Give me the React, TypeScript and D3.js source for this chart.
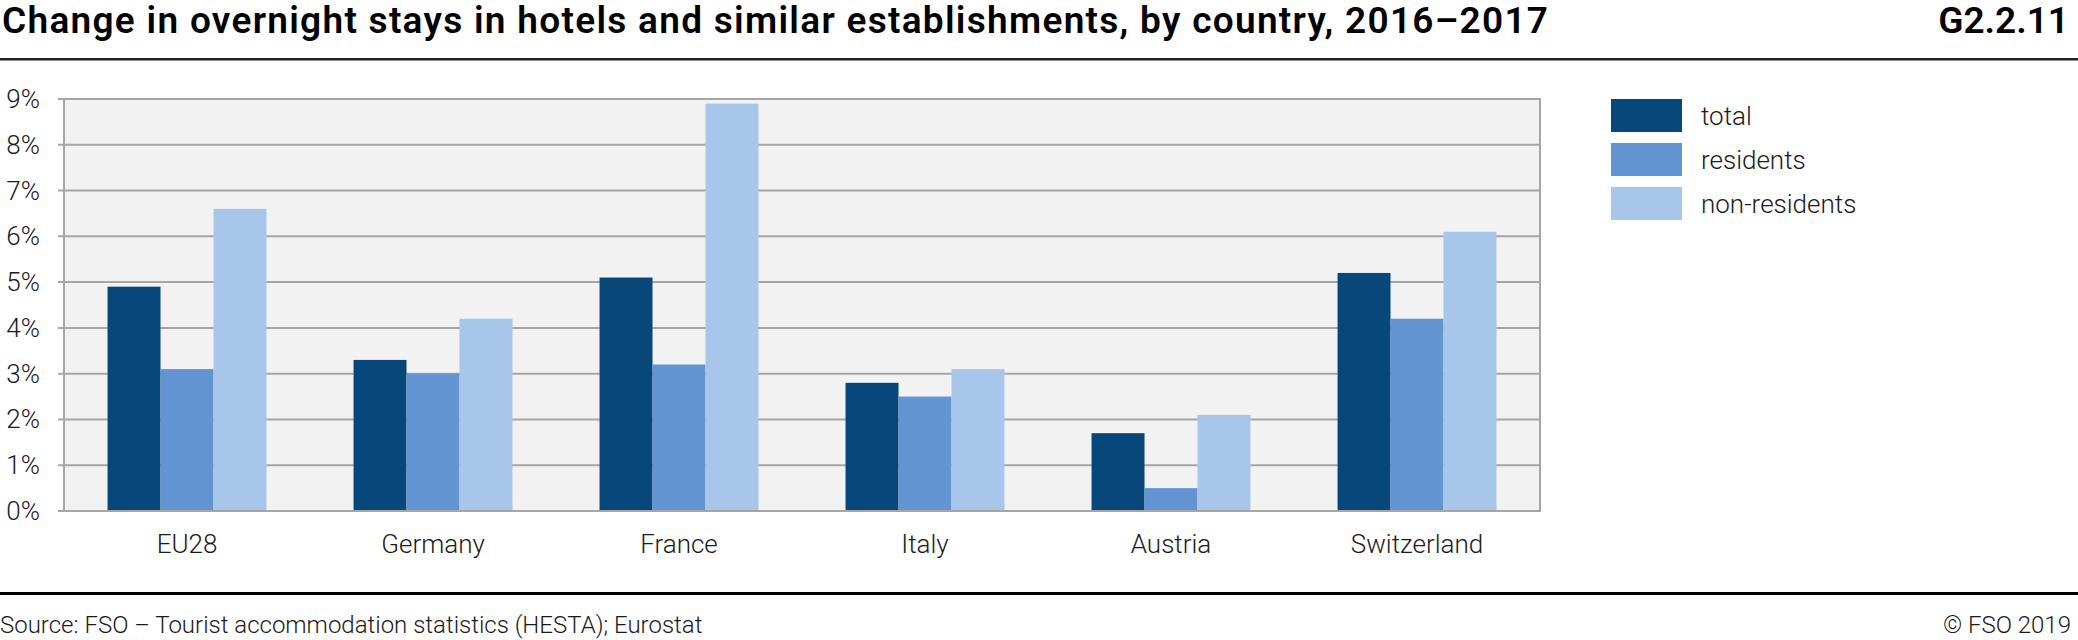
import { useEffect, useRef } from 'react';
import * as d3 from 'd3';

const COUNTRIES = ['EU28', 'Germany', 'France', 'Italy', 'Austria', 'Switzerland'];
const SERIES = ['total', 'residents', 'non-residents'];
const TOTAL = [4.9, 3.3, 5.1, 2.8, 1.7, 5.2];
const RESIDENTS = [3.1, 3.0, 3.2, 2.5, 0.5, 4.2];
const NON_RESIDENTS = [6.6, 4.2, 8.9, 3.1, 2.1, 6.1];
const Y_TICKS = [0, 1, 2, 3, 4, 5, 6, 7, 8, 9];
const COLORS = ['#08477a', '#6395d3', '#a8c5ea'];

const WIDTH = 2078;
const HEIGHT = 640;
const PLOT = { left: 64, right: 1540, top: 99, bottom: 511 };
const FONT = 'Roboto, "Noto Sans", sans-serif';

export default function App() {
  const ref = useRef<SVGSVGElement | null>(null);

  useEffect(() => {
    if (!ref.current) return;
    const svg = d3.select(ref.current);
    svg.selectAll('*').remove();

    const values = [TOTAL, RESIDENTS, NON_RESIDENTS];
    const rows = COUNTRIES.map((c, i) => ({ country: c, vals: values.map(v => v[i]) }));

    const x0 = d3
      .scaleBand()
      .domain(COUNTRIES)
      .range([PLOT.left, PLOT.right])
      .paddingInner(0.354)
      .paddingOuter(0.177);
    const x1 = d3.scaleBand().domain(SERIES).range([0, x0.bandwidth()]);
    const y = d3.scaleLinear().domain([0, 9]).range([PLOT.bottom, PLOT.top]);

    // title block
    svg
      .append('text')
      .attr('x', 2)
      .attr('y', 33)
      .attr('font-family', FONT)
      .attr('font-weight', 600)
      .attr('font-size', 37)
      .attr('textLength', 1546)
      .attr('lengthAdjust', 'spacing')
      .attr('fill', '#000')
      .text('Change in overnight stays in hotels and similar establishments, by country, 2016–2017');
    svg
      .append('text')
      .attr('x', 2069)
      .attr('y', 33)
      .attr('text-anchor', 'end')
      .attr('font-family', FONT)
      .attr('font-weight', 600)
      .attr('font-size', 37)
      .attr('fill', '#000')
      .text('G2.2.11');
    svg.append('rect').attr('x', 0).attr('y', 58).attr('width', WIDTH).attr('height', 2.5).attr('fill', '#222');

    // plot background
    svg
      .append('rect')
      .attr('x', PLOT.left)
      .attr('y', PLOT.top)
      .attr('width', PLOT.right - PLOT.left)
      .attr('height', PLOT.bottom - PLOT.top)
      .attr('fill', '#f2f2f2');

    // gridlines + ticks
    svg
      .append('g')
      .selectAll('line')
      .data(Y_TICKS)
      .join('line')
      .attr('x1', PLOT.left - 6)
      .attr('x2', PLOT.right)
      .attr('y1', d => y(d))
      .attr('y2', d => y(d))
      .attr('stroke', '#a6a6a6')
      .attr('stroke-width', 2);

    svg
      .append('g')
      .selectAll('text')
      .data(Y_TICKS)
      .join('text')
      .attr('x', 40)
      .attr('y', d => y(d) + 9)
      .attr('text-anchor', 'end')
      .attr('font-family', FONT)
      .attr('font-weight', 300)
      .attr('font-size', 26)
      .attr('fill', '#1a1a1a')
      .text(d => `${d}%`);

    // bars
    const group = svg
      .append('g')
      .selectAll('g')
      .data(rows)
      .join('g')
      .attr('transform', d => `translate(${x0(d.country)},0)`);
    group
      .selectAll('rect')
      .data(d => d.vals.map((v, i) => ({ key: SERIES[i], v, i })))
      .join('rect')
      .attr('x', d => x1(d.key)!)
      .attr('width', x1.bandwidth())
      .attr('y', d => y(d.v))
      .attr('height', d => y(0) - y(d.v))
      .attr('fill', d => COLORS[d.i]);

    // frame
    svg
      .append('rect')
      .attr('x', PLOT.left)
      .attr('y', PLOT.top)
      .attr('width', PLOT.right - PLOT.left)
      .attr('height', PLOT.bottom - PLOT.top)
      .attr('fill', 'none')
      .attr('stroke', '#a6a6a6')
      .attr('stroke-width', 2);

    // category labels
    svg
      .append('g')
      .selectAll('text')
      .data(COUNTRIES)
      .join('text')
      .attr('x', d => x0(d)! + x0.bandwidth() / 2)
      .attr('y', 553)
      .attr('text-anchor', 'middle')
      .attr('font-family', FONT)
      .attr('font-weight', 300)
      .attr('font-size', 26)
      .attr('fill', '#1a1a1a')
      .text(d => d);

    // legend
    const legend = svg
      .append('g')
      .selectAll('g')
      .data(SERIES)
      .join('g')
      .attr('transform', (d, i) => `translate(1611,${99 + i * 44})`);
    legend.append('rect').attr('width', 71).attr('height', 33).attr('fill', (d, i) => COLORS[i]);
    legend
      .append('text')
      .attr('x', 90)
      .attr('y', 26)
      .attr('font-family', FONT)
      .attr('font-weight', 300)
      .attr('font-size', 26)
      .attr('fill', '#1a1a1a')
      .text(d => d);

    // footer
    svg.append('rect').attr('x', 0).attr('y', 592).attr('width', WIDTH).attr('height', 3).attr('fill', '#000');
    svg
      .append('text')
      .attr('x', 0)
      .attr('y', 633)
      .attr('font-family', FONT)
      .attr('font-weight', 300)
      .attr('font-size', 24)
      .attr('fill', '#1a1a1a')
      .text('Source: FSO – Tourist accommodation statistics (HESTA); Eurostat');
    svg
      .append('text')
      .attr('x', 2071)
      .attr('y', 633)
      .attr('text-anchor', 'end')
      .attr('font-family', FONT)
      .attr('font-weight', 300)
      .attr('font-size', 24)
      .attr('fill', '#1a1a1a')
      .text('© FSO 2019');
  }, []);

  return (
    <svg
      ref={ref}
      width={WIDTH}
      height={HEIGHT}
      style={{ position: 'absolute', left: 0, top: 0, background: '#fff' }}
    />
  );
}
